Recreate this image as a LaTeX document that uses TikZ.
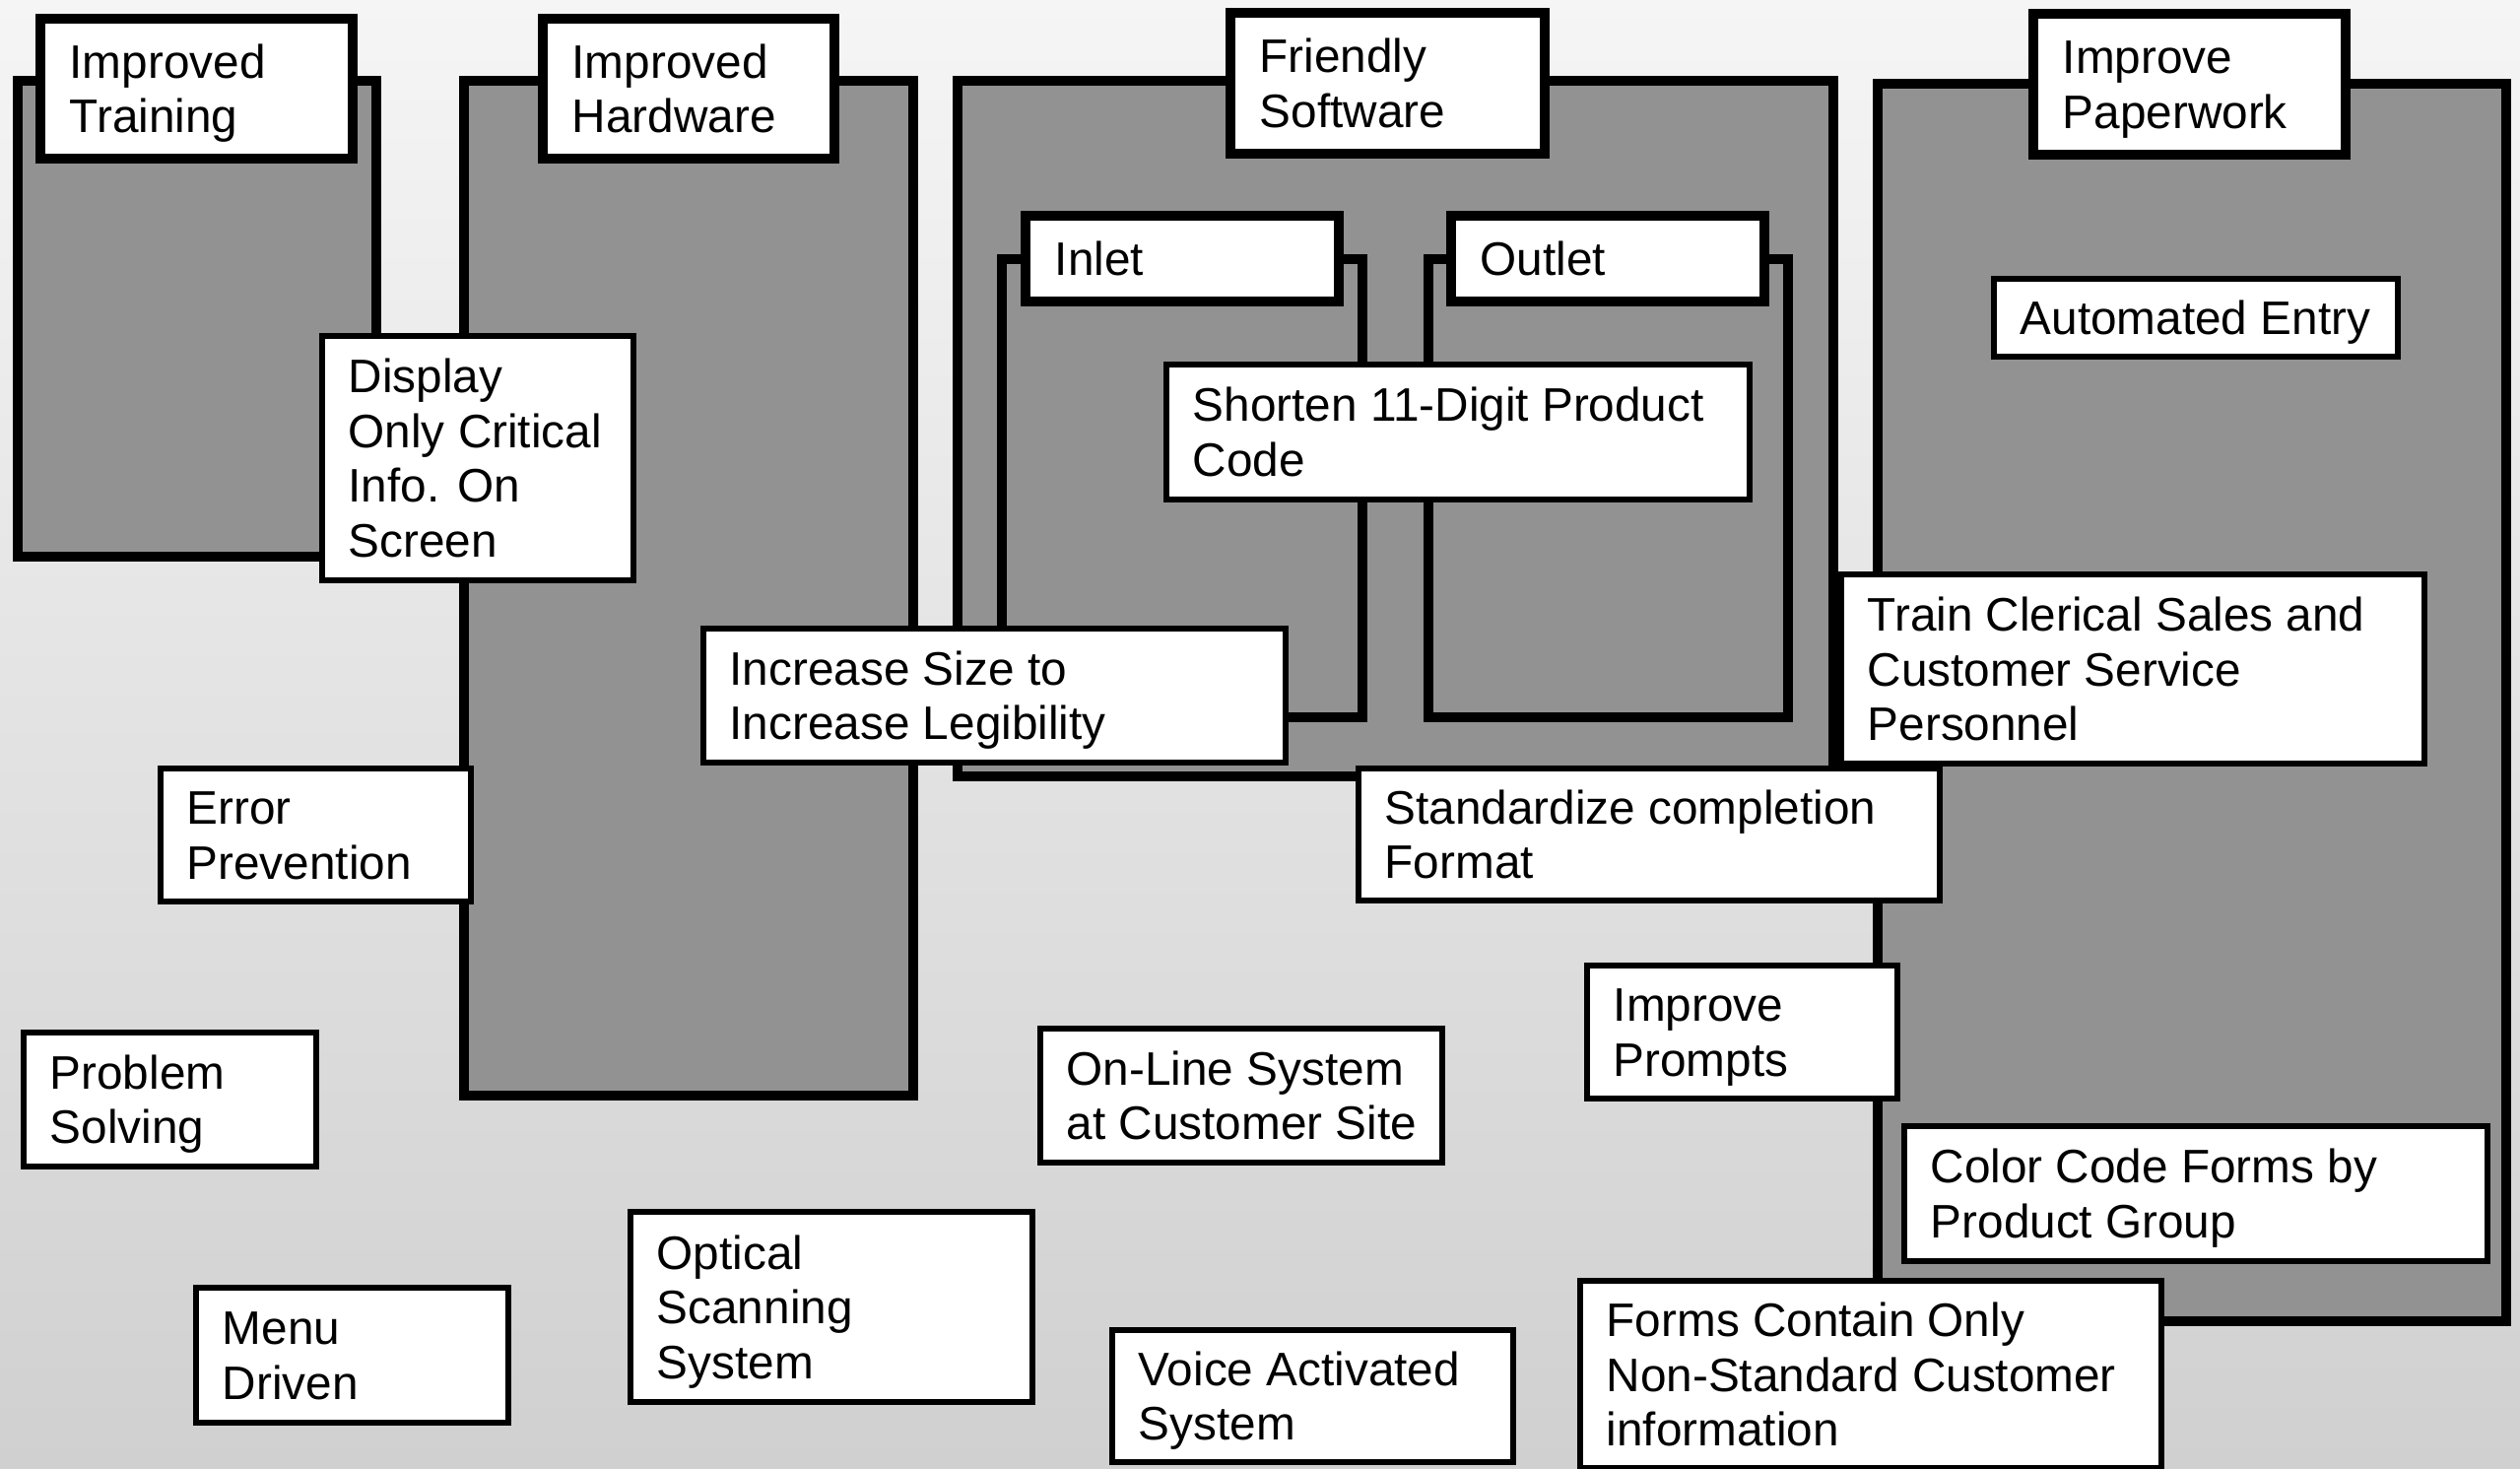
\documentclass[tikz,border=0pt]{standalone}
\usepackage{fontspec}
\setmainfont{Liberation Sans}
\usetikzlibrary{fit}

\definecolor{panelgray}{HTML}{929292}
\definecolor{bgtop}{HTML}{F5F5F5}
\definecolor{bgbottom}{HTML}{D0D0D0}

% struts that centre a block of lines on the middle of its capitals:
% a tall one opening the first line, a deep one closing the last line
\newcommand\topstrut{\rule{0pt}{0.95em}}
\newcommand\botstrut{\rule[-0.234em]{0pt}{0.234em}}

% #1 style, #2 text inset, #3 name, #4-#7 corners, #8 text
\newcommand\tbox[8]{%
  \node[#1, fit={(#4,#5) (#6,#7)}] (#3) {};
  \node[boxtext, anchor=west] (#3-text) at ([xshift=#2]#3.west) {\topstrut#8\botstrut};}

\tikzset{
  container/.style={draw=black, fill=panelgray, line width=1mm},
  tagbox/.style={draw=black, fill=white, line width=1mm, inner sep=0pt, outer sep=0pt},
  itembox/.style={draw=black, fill=white, line width=0.6mm, inner sep=0pt, outer sep=0pt},
  boxtext/.style={font=\fontsize{13.57pt}{15.8pt}\selectfont, align=left, inner sep=0pt},
}

\begin{document}
\begin{tikzpicture}[x=0.01cm, y=-0.01cm]
  \path[use as bounding box] (0,0) rectangle (2558,1490);
  \shade[top color=bgtop, bottom color=bgbottom] (0,0) rectangle (2558,1490);

  % category panels
  \draw[container] (18,82) rectangle (382,565);
  \draw[container] (471,82) rectangle (927,1112);
  \draw[container] (972,82) rectangle (1861,788);
  \draw[container] (1017,263) rectangle (1383,728);
  \draw[container] (1450,263) rectangle (1815,728);
  \draw[container] (1906,85) rectangle (2544,1341);

  % panel headings
  \tbox{tagbox}{0.29cm}{trainingtag}{41}{19}{358}{161}{Improved\\Training}
  \tbox{tagbox}{0.29cm}{hardwaretag}{551}{19}{847}{161}{Improved\\Hardware}
  \tbox{tagbox}{0.29cm}{softwaretag}{1249}{13}{1568}{156}{Friendly\\Software}
  \tbox{tagbox}{0.29cm}{papertag}{2064}{14}{2381}{157}{Improve\\Paperwork}
  \tbox{tagbox}{0.29cm}{inlettag}{1041}{219}{1359}{306}{Inlet}
  \tbox{tagbox}{0.29cm}{outlettag}{1473}{219}{1791}{306}{Outlet}

  % ideas
  \tbox{itembox}{0.26cm}{display}{327}{341}{643}{589}{Display\\Only Critical\\Info. On\\Screen}
  \tbox{itembox}{0.26cm}{shorten}{1184}{370}{1776}{507}{Shorten 11-Digit Product\\Code}
  \tbox{itembox}{0.26cm}{automated}{2024}{283}{2434}{362}{Automated Entry}
  \tbox{itembox}{0.26cm}{clerical}{1869}{583}{2461}{775}{Train Clerical Sales and\\Customer Service\\Personnel}
  \tbox{itembox}{0.26cm}{increase}{714}{638}{1305}{774}{Increase Size to\\Increase Legibility}
  \tbox{itembox}{0.26cm}{error}{163}{780}{478}{915}{Error\\Prevention}
  \tbox{itembox}{0.26cm}{standardize}{1379}{780}{1969}{914}{Standardize completion\\Format}
  \tbox{itembox}{0.26cm}{prompts}{1611}{980}{1926}{1115}{Improve\\Prompts}
  \tbox{itembox}{0.26cm}{problem}{24}{1048}{321}{1184}{Problem\\Solving}
  \tbox{itembox}{0.26cm}{online}{1056}{1044}{1464}{1180}{On-Line System\\at Customer Site}
  \tbox{itembox}{0.26cm}{colorcode}{1933}{1143}{2525}{1280}{Color Code Forms by\\Product Group}
  \tbox{itembox}{0.26cm}{menu}{199}{1307}{516}{1444}{Menu\\Driven}
  \tbox{itembox}{0.26cm}{optical}{640}{1230}{1048}{1423}{Optical\\Scanning\\System}
  \tbox{itembox}{0.26cm}{voice}{1129}{1350}{1536}{1484}{Voice Activated\\System}
  \tbox{itembox}{0.26cm}{forms}{1604}{1300}{2194}{1490}{Forms Contain Only\\Non-Standard Customer\\information}
\end{tikzpicture}
\end{document}
